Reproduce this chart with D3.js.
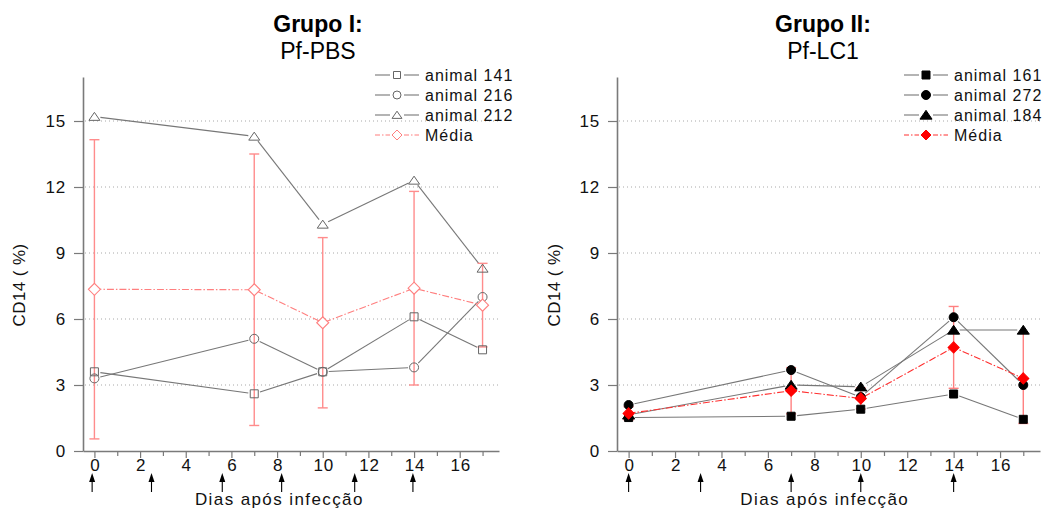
<!DOCTYPE html>
<html><head><meta charset="utf-8">
<script src="https://cdn.jsdelivr.net/npm/d3@7"></script>
<style>
html,body{margin:0;padding:0;background:#fff;}
text{font-family:Arial,"Liberation Sans",sans-serif;}
</style></head>
<body><svg id="c" width="1051" height="508"></svg>
<script>
// ---- data ----
const days = [0, 7, 10, 14, 17];
const yTicks = [0, 3, 6, 9, 12, 15];
const xMajorTicks = [0, 2, 4, 6, 8, 10, 12, 14, 16];
const xMinorTicks = [1, 3, 5, 7, 9, 11, 13, 15, 17];

// Grupo I: Pf-PBS
const a141 = [3.6, 2.6, 3.6, 6.1, 4.6];
const a216 = [3.3, 5.1, 3.6, 3.8, 7.0];
const a212 = [15.2, 14.3, 10.3, 12.3, 8.3];
const mediaI = [7.35, 7.33, 5.83, 7.4, 6.63];
const sdI = [6.8, 6.17, 3.87, 4.4, 1.9];
const arrowsI = [-0.1, 2.5, 5.6, 8.2, 11.4, 13.95];

// Grupo II: Pf-LC1
const a161 = [1.52, 1.58, 1.9, 2.59, 1.44];
const a272 = [2.09, 3.68, 2.45, 6.08, 3.0];
const a184 = [1.64, 3.0, 2.92, 5.5, 5.5];
const mediaII = [1.71, 2.74, 2.39, 4.71, 3.3];
const sdII = [0.3, 1.05, 0.48, 1.86, 2.05];
const arrowsII = [0, 3.1, 7, 10, 14];

const svg = d3.select('#c');

function markerPath(shape, s) {
  const h = s / 2;
  if (shape === 'square') return `M${-h},${-h}H${h}V${h}H${-h}Z`;
  if (shape === 'circle') return `M${-h},0A${h},${h} 0 1,0 ${h},0A${h},${h} 0 1,0 ${-h},0Z`;
  if (shape === 'triangle') return `M0,${-h*0.85}L${h*1.1},${h*0.75}L${-h*1.1},${h*0.75}Z`;
  if (shape === 'diamond') return `M0,${-h}L${h},0L0,${h}L${-h},0Z`;
}

function panel(cfg) {
  const g = svg.append('g');
  const x = d3.scaleLinear().domain([-0.5, 17.72]).range(cfg.xRange);
  const y = d3.scaleLinear().domain([0, 17]).range([451, 77]);

  // grid
  g.append('g').selectAll('line').data(yTicks.filter(d => d > 0)).join('line')
    .attr('x1', cfg.xRange[0] + 2).attr('x2', cfg.xRange[1])
    .attr('y1', d => y(d)).attr('y2', d => y(d))
    .attr('stroke', '#a8a8a8').attr('stroke-width', 1).attr('stroke-dasharray', '1,3');

  // axes
  const ax = g.append('g').attr('transform', 'translate(0,451)')
    .call(d3.axisBottom(x).tickValues(xMajorTicks).tickSize(7).tickSizeOuter(0).tickPadding(1));
  g.append('g').attr('transform', 'translate(0,451)')
    .call(d3.axisBottom(x).tickValues(xMinorTicks).tickSize(5).tickSizeOuter(0).tickFormat(''))
    .select('.domain').remove();
  const ay = g.append('g').attr('transform', `translate(${cfg.xRange[0]},0)`)
    .call(d3.axisLeft(y).tickValues(yTicks).tickSize(9).tickSizeOuter(0).tickPadding(8));
  g.selectAll('.domain').attr('stroke', '#7a7a7a').attr('stroke-width', 1.6);
  g.selectAll('.tick line').attr('stroke', '#7a7a7a').attr('stroke-width', 1.2);
  g.selectAll('.tick text').attr('font-size', 17).attr('fill', '#111')
    .style('letter-spacing', '0.8px').attr('font-family', 'Arial, Liberation Sans, sans-serif');
  ax.selectAll('.tick text').attr('dx', '0.5px');

  // series lines (gap near markers)
  const gap = 6;
  cfg.series.forEach(s => {
    const pts = days.map((d, i) => [x(d), y(s.values[i])]);
    for (let i = 0; i < pts.length - 1; i++) {
      const [x1, y1] = pts[i], [x2, y2] = pts[i + 1];
      const L = Math.hypot(x2 - x1, y2 - y1);
      const ux = (x2 - x1) / L, uy = (y2 - y1) / L;
      g.append('line')
        .attr('x1', x1 + ux * gap).attr('y1', y1 + uy * gap)
        .attr('x2', x2 - ux * gap).attr('y2', y2 - uy * gap)
        .attr('stroke', '#777').attr('stroke-width', 1.1);
    }
  });

  // média line
  g.append('path').datum(days.map((d, i) => [d, cfg.media[i]]))
    .attr('d', d3.line().x(d => x(d[0])).y(d => y(d[1])))
    .attr('fill', 'none').attr('stroke', cfg.mediaLine).attr('stroke-width', 1.1)
    .attr('stroke-dasharray', '7,2,1.5,2');

  // error bars
  const eb = g.append('g').attr('stroke', cfg.errColor).attr('stroke-width', 1.4);
  days.forEach((d, i) => {
    const cx = x(d), top = y(cfg.media[i] + cfg.sd[i]), bot = y(cfg.media[i] - cfg.sd[i]);
    eb.append('line').attr('x1', cx).attr('x2', cx).attr('y1', top).attr('y2', bot);
    eb.append('line').attr('x1', cx - 5).attr('x2', cx + 5).attr('y1', top).attr('y2', top);
    eb.append('line').attr('x1', cx - 5).attr('x2', cx + 5).attr('y1', bot).attr('y2', bot);
  });

  // markers
  cfg.series.forEach(s => {
    g.append('g').selectAll('path').data(s.values).join('path')
      .attr('transform', (v, i) => `translate(${x(days[i])},${y(v)})`)
      .attr('d', markerPath(s.shape, s.size))
      .attr('fill', cfg.filled ? '#000' : 'none')
      .attr('stroke', cfg.filled ? '#000' : '#666').attr('stroke-width', 1);
  });
  g.append('g').selectAll('path').data(cfg.media).join('path')
    .attr('transform', (v, i) => `translate(${x(days[i])},${y(v)})`)
    .attr('d', markerPath('diamond', cfg.filled ? 11 : 12))
    .attr('fill', cfg.filled ? '#ff0000' : '#fff')
    .attr('stroke', cfg.filled ? '#ff0000' : '#ff7f7f').attr('stroke-width', 1.1);

  // arrows
  cfg.arrows.forEach(a => {
    const cx = x(a);
    g.append('line').attr('x1', cx).attr('x2', cx).attr('y1', 479).attr('y2', 492)
      .attr('stroke', '#000').attr('stroke-width', 1.1);
    g.append('path').attr('d', `M${cx},473L${cx + 3},482L${cx - 3},482Z`).attr('fill', '#000');
  });

  // x label
  g.append('text').attr('x', x(cfg.xLabelAt)).attr('y', 505).attr('text-anchor', 'middle')
    .attr('font-size', 17).style('letter-spacing', '1.4px').attr('fill', '#111')
    .text('Dias após infecção');

  // y label
  g.append('text').attr('transform', `translate(${cfg.yLabelX},285) rotate(-90)`)
    .attr('text-anchor', 'middle').attr('font-size', 17).attr('fill', '#111')
    .style('letter-spacing', '0.4px')
    .text('CD14 ( %)');

  // title
  g.append('text').attr('x', cfg.titleX).attr('y', 32).attr('text-anchor', 'middle')
    .attr('font-size', 23).attr('font-weight', 'bold').attr('fill', '#000').text(cfg.title1);
  g.append('text').attr('x', cfg.titleX).attr('y', 59).attr('text-anchor', 'middle')
    .attr('font-size', 23).attr('fill', '#000').text(cfg.title2);

  // legend
  const lg = g.append('g');
  const items = cfg.series.map(s => ({label: s.label, shape: s.shape, size: s.size, media: false}))
    .concat([{label: 'Média', shape: 'diamond', size: 11, media: true}]);
  items.forEach((it, i) => {
    const yy = 75 + i * 20;
    const mx = cfg.legX + 22;
    const col = it.media ? cfg.mediaLine : '#777';
    const dash = it.media ? '5,2,1.5,2' : null;
    lg.append('line').attr('x1', cfg.legX).attr('x2', mx - 7).attr('y1', yy).attr('y2', yy)
      .attr('stroke', col).attr('stroke-width', 1.1).attr('stroke-dasharray', dash);
    lg.append('line').attr('x1', mx + 7).attr('x2', cfg.legX + 44).attr('y1', yy).attr('y2', yy)
      .attr('stroke', col).attr('stroke-width', 1.1).attr('stroke-dasharray', dash);
    let fill, stroke;
    if (it.media) { fill = cfg.filled ? '#ff0000' : '#fff'; stroke = cfg.filled ? '#ff0000' : '#ff7f7f'; }
    else { fill = cfg.filled ? '#000' : 'none'; stroke = cfg.filled ? '#000' : '#666'; }
    lg.append('path').attr('transform', `translate(${mx},${yy})`)
      .attr('d', markerPath(it.shape, it.media ? 10 : (cfg.filled ? it.size : it.size - 1)))
      .attr('fill', fill).attr('stroke', stroke).attr('stroke-width', 1);
    lg.append('text').attr('x', cfg.legX + 50).attr('y', yy + 5.5)
      .attr('font-size', 16).style('letter-spacing', '1px').attr('fill', '#111').text(it.label);
  });
}

panel({
  xRange: [83, 499],
  title1: 'Grupo I:', title2: 'Pf-PBS', titleX: 318,
  series: [
    {label: 'animal 141', values: a141, shape: 'square', size: 8},
    {label: 'animal 216', values: a216, shape: 'circle', size: 9},
    {label: 'animal 212', values: a212, shape: 'triangle', size: 10}
  ],
  media: mediaI, sd: sdI, filled: false,
  mediaLine: '#ff7f7f', errColor: '#ff8c8c',
  arrows: arrowsI, xLabelAt: 8.1, yLabelX: 25, legX: 375
});

panel({
  xRange: [617, 1040],
  title1: 'Grupo II:', title2: 'Pf-LC1', titleX: 823,
  series: [
    {label: 'animal 161', values: a161, shape: 'square', size: 8},
    {label: 'animal 272', values: a272, shape: 'circle', size: 9},
    {label: 'animal 184', values: a184, shape: 'triangle', size: 11}
  ],
  media: mediaII, sd: sdII, filled: true,
  mediaLine: '#ff3030', errColor: '#ff8080',
  arrows: arrowsII, xLabelAt: 8.45, yLabelX: 560, legX: 904
});
</script>
</body></html>
